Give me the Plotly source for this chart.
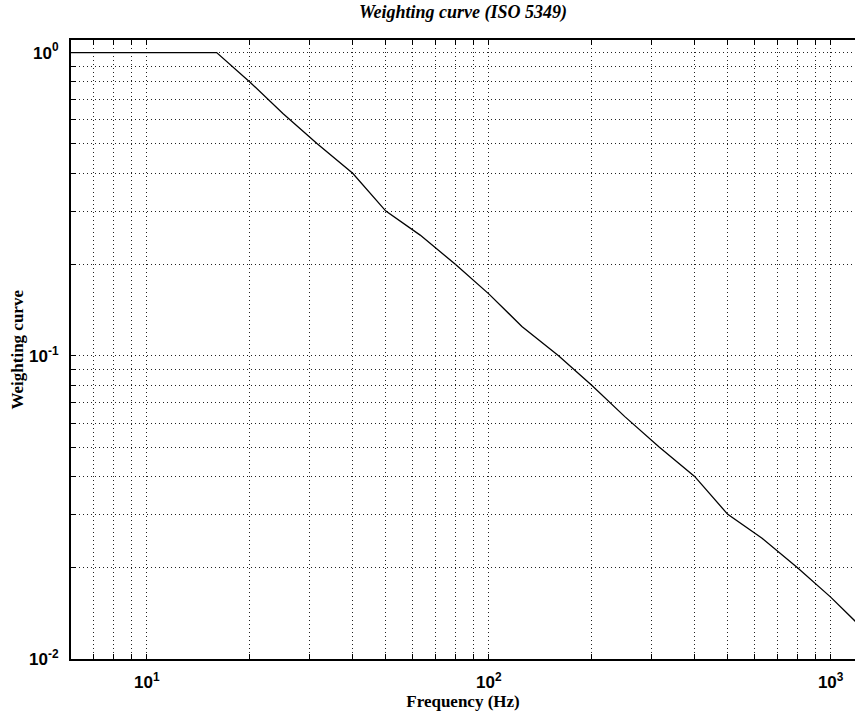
import numpy as np
import plotly.graph_objects as go

# ISO 5349 hand-arm frequency weighting, one-third octave band centres
freq_hz = [5.0, 6.3, 8.0, 10.0, 12.5, 16.0, 20.0, 25.0, 31.5, 40.0, 50.0, 63.0,
           80.0, 100.0, 125.0, 160.0, 200.0, 250.0, 315.0, 400.0, 500.0, 630.0,
           800.0, 1000.0, 1250.0]
weight = [1.0, 1.0, 1.0, 1.0, 1.0, 1.0, 0.8, 0.63, 0.5, 0.4, 0.3, 0.25,
          0.2, 0.16, 0.125, 0.1, 0.08, 0.063, 0.05, 0.04, 0.03, 0.025,
          0.02, 0.016, 0.0125]

# grid at every 1..9 x 10^k, labels only on the decades
def log_ticks(k_lo, k_hi):
    vals, text = [], []
    for k in range(k_lo, k_hi + 1):
        for m in range(1, 10):
            vals.append(m * 10.0 ** k)
            text.append(f"<b>10<sup>{k}</sup></b>" if m == 1 else "")
    return vals, text

xt_vals, xt_text = log_ticks(0, 3)
yt_vals, yt_text = log_ticks(-2, 0)

fig = go.Figure()
fig.add_trace(go.Scatter(x=freq_hz, y=weight, mode="lines",
                         line=dict(color="black", width=1.3),
                         showlegend=False))

tick_font = dict(family="Liberation Sans, Arial", size=17, color="black")
label_font = dict(family="Liberation Serif, Times New Roman", size=17, color="black")
grid_dash = "1px,3px"

common = dict(type="log", tickmode="array",
              ticks="inside", ticklen=5, tickcolor="black", tickwidth=1,
              showline=True, linecolor="black", linewidth=2,
              showgrid=True, gridcolor="#222222", griddash=grid_dash, gridwidth=1,
              zeroline=False, tickfont=tick_font)

fig.update_xaxes(range=[np.log10(6.0), np.log10(1178)],
                 tickvals=xt_vals, ticktext=xt_text, mirror="ticks",
                 ticklabelstandoff=7,
                 title=dict(text="<b>Frequency (Hz)</b>", font=label_font, standoff=1),
                 **common)
fig.update_yaxes(range=[-2, np.log10(1.1)],
                 tickvals=yt_vals, ticktext=yt_text, ticklabelstandoff=7,
                 **common)

# y-axis label placed just left of the decade labels
fig.add_annotation(text="<b>Weighting curve</b>", font=label_font, textangle=-90,
                   xref="paper", yref="paper", x=(17 - 71) / 784, y=0.5,
                   xanchor="center", yanchor="middle", showarrow=False)

fig.update_layout(
    width=855, height=716,
    margin=dict(l=71, r=0, t=40, b=57),
    paper_bgcolor="white", plot_bgcolor="white",
    title=dict(text="<b><i>Weighting curve (ISO 5349)</i></b>",
               font=dict(family="Liberation Serif, Times New Roman", size=18, color="black"),
               x=463 / 855, xanchor="center", y=0.993, yanchor="top"),
)

fig.write_html("out.html")
